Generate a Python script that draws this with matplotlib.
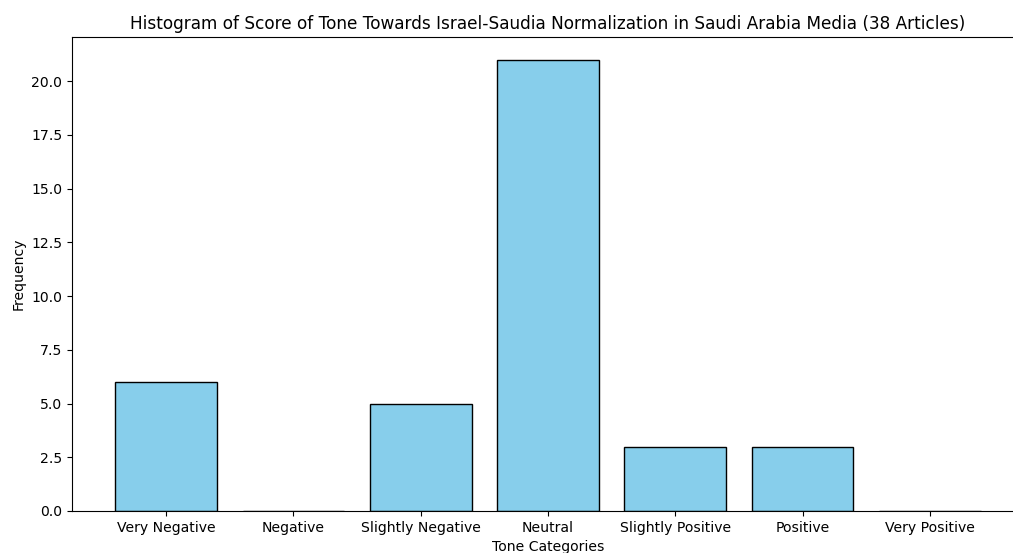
import matplotlib
matplotlib.use("Agg")
import matplotlib.pyplot as plt

categories = ["Very Negative", "Negative", "Slightly Negative", "Neutral",
              "Slightly Positive", "Positive", "Very Positive"]
counts = [6, 0, 5, 21, 3, 3, 0]

fig = plt.figure(figsize=(10.13, 5.53), dpi=100)
ax = fig.add_axes([72/1013, 42/553, (1024-72)/1013, (511-37)/553])
ax.bar(categories, counts, color="skyblue", edgecolor="black")
ax.set_title("Histogram of Score of Tone Towards Israel-Saudia Normalization in Saudi Arabia Media (38 Articles)",
             fontsize=12.2)
ax.set_xlabel("Tone Categories", fontsize=10.1)
ax.set_ylabel("Frequency", fontsize=10.1)
ax.tick_params(labelsize=10.1)
fig.savefig("out.png", dpi=100)
